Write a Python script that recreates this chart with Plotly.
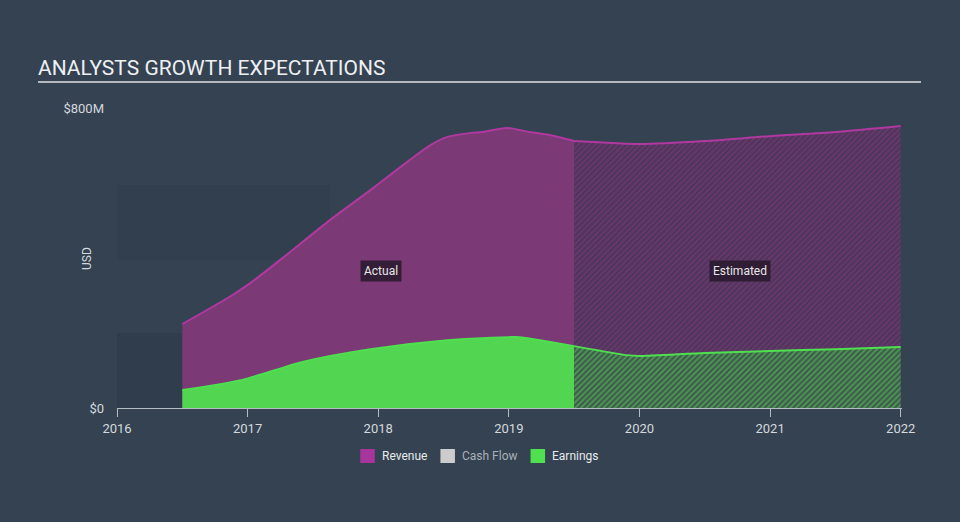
import plotly.graph_objects as go

# revenue and earnings, USD, x as fractional years
rev_x = [2016.5, 2016.86, 2017.02, 2017.25, 2017.63, 2017.94, 2018.24, 2018.4, 2018.53, 2018.7, 2018.8, 2018.98, 2019.16, 2019.31, 2019.5]
act_revenue = [224e6, 296e6, 333e6, 395e6, 501e6, 581e6, 661e6, 701e6, 723e6, 733e6, 736e6, 747e6, 736e6, 728e6, 712e6]
earn_x = [2016.5, 2016.96, 2017.42, 2017.94, 2018.53, 2019.0, 2019.08, 2019.5]
act_earnings = [48e6, 75e6, 123e6, 157e6, 181e6, 189e6, 189e6, 165e6]

est_x = [2019.5, 2019.9, 2020.0, 2020.5, 2021.0, 2021.5, 2022.0]
est_revenue = [712e6, 705e6, 704e6, 712e6, 725e6, 736e6, 752e6]
est_earnings = [165e6, 141e6, 139e6, 147e6, 152e6, 157e6, 163e6]

legend_names = ["Revenue", "Cash Flow", "Earnings"]

bg = "#344252"
rev_line = "#b0399f"
rev_fill = "#7b3a75"
earn_line = "#4ee04e"
earn_fill = "#52d652"

fig = go.Figure()

# actual
fig.add_trace(go.Scatter(x=rev_x, y=act_revenue, mode="lines",
                         line=dict(color=rev_line, width=2, shape="spline", smoothing=0.7),
                         fill="tozeroy", fillcolor=rev_fill, showlegend=False, hoverinfo="skip"))
fig.add_trace(go.Scatter(x=earn_x, y=act_earnings, mode="lines",
                         line=dict(color=earn_line, width=2, shape="spline", smoothing=0.7),
                         fill="tozeroy", fillcolor=earn_fill, showlegend=False, hoverinfo="skip"))

# estimated (hatched)
fig.add_trace(go.Scatter(x=est_x, y=est_revenue, mode="lines",
                         line=dict(color=rev_line, width=2, shape="spline", smoothing=0.7),
                         fill="tozeroy",
                         fillpattern=dict(shape="/", bgcolor="#4c355a", fgcolor="#86397f", size=4, solidity=0.5),
                         showlegend=False, hoverinfo="skip"))
fig.add_trace(go.Scatter(x=est_x, y=est_earnings, mode="lines",
                         line=dict(color=earn_line, width=2, shape="spline", smoothing=0.7),
                         fill="tozeroy",
                         fillpattern=dict(shape="/", bgcolor="#3c5a4a", fgcolor="#5fd05f", size=4, solidity=0.5),
                         showlegend=False, hoverinfo="skip"))

# legend drawn by hand (squares + labels), paper coords
leg_sq_x = [0.3099, 0.4120, 0.5268]
leg_txt_x = [0.3355, 0.4375, 0.5510]
leg_cols = ["#a8359c", "#cccccc", "#4ee04e"]
leg_txt_cols = ["#e8eaec", "#a9b0b8", "#e8eaec"]
for name, sx, tx, col, tcol in zip(legend_names, leg_sq_x, leg_txt_x, leg_cols, leg_txt_cols):
    fig.add_shape(type="rect", xref="paper", yref="paper", x0=sx, x1=sx + 0.0185, y0=-0.1833, y1=-0.1367,
                  fillcolor=col, line_width=0)
    fig.add_annotation(xref="paper", yref="paper", x=tx, y=-0.16, xanchor="left", yanchor="middle",
                       text=name, showarrow=False, font=dict(size=12, color=tcol))

# faint background bands
fig.add_shape(type="rect", xref="x", yref="y", x0=2016, x1=2017.63, y0=395e6, y1=595e6,
              fillcolor="rgba(20,30,40,0.09)", line_width=0, layer="below")
fig.add_shape(type="rect", xref="x", yref="y", x0=2016, x1=2017.63, y0=0, y1=200e6,
              fillcolor="rgba(20,30,40,0.13)", line_width=0, layer="below")

# title underline
fig.add_shape(type="line", xref="paper", yref="paper", x0=-0.1006, x1=1.0242, y0=1.0867, y1=1.0867,
              line=dict(color="#b4b9bf", width=2))

fig.add_annotation(x=2018.02, y=365e6, text="Actual", showarrow=False, bgcolor="rgba(40,25,45,0.85)",
                   font=dict(color="#e8e8e8", size=12), borderpad=3)
fig.add_annotation(x=2020.77, y=365e6, text="Estimated", showarrow=False, bgcolor="rgba(40,25,45,0.85)",
                   font=dict(color="#e8e8e8", size=12), borderpad=3)
fig.add_annotation(xref="paper", yref="paper", x=-0.0383, y=0.5, xanchor="center", yanchor="middle",
                   text="USD", textangle=-90, showarrow=False, font=dict(color="#d5d9dd", size=12))

fig.update_layout(
    width=960, height=522,
    paper_bgcolor=bg, plot_bgcolor=bg,
    font=dict(family="Roboto", color="#d5d9dd"),
    margin=dict(l=117, r=58, t=108, b=114),
    showlegend=False,
    title=dict(text="ANALYSTS GROWTH EXPECTATIONS", x=38 / 960, xanchor="left", y=1 - 68 / 522, yanchor="middle",
               font=dict(size=21, color="#eef0f2", family="Roboto")),
    xaxis=dict(range=[2016, 2022.01], tickvals=[2016, 2017, 2018, 2019, 2020, 2021, 2022],
               showgrid=False, zeroline=False, showline=True, linecolor="#b4bcc4", linewidth=1,
               ticks="outside", ticklen=8, tickcolor="#b4bcc4", tickfont=dict(size=13, color="#d5d9dd")),
    yaxis=dict(range=[0, 800e6], tickvals=[0, 800e6], ticktext=["$0", "$800M"], showgrid=False,
               zeroline=False, showline=False, ticks="", ticklabelstandoff=12,
               tickfont=dict(size=13, color="#d5d9dd")),
)

fig.write_html("out.html", config={"displayModeBar": False},
               post_script="document.body.style.margin='0';")
